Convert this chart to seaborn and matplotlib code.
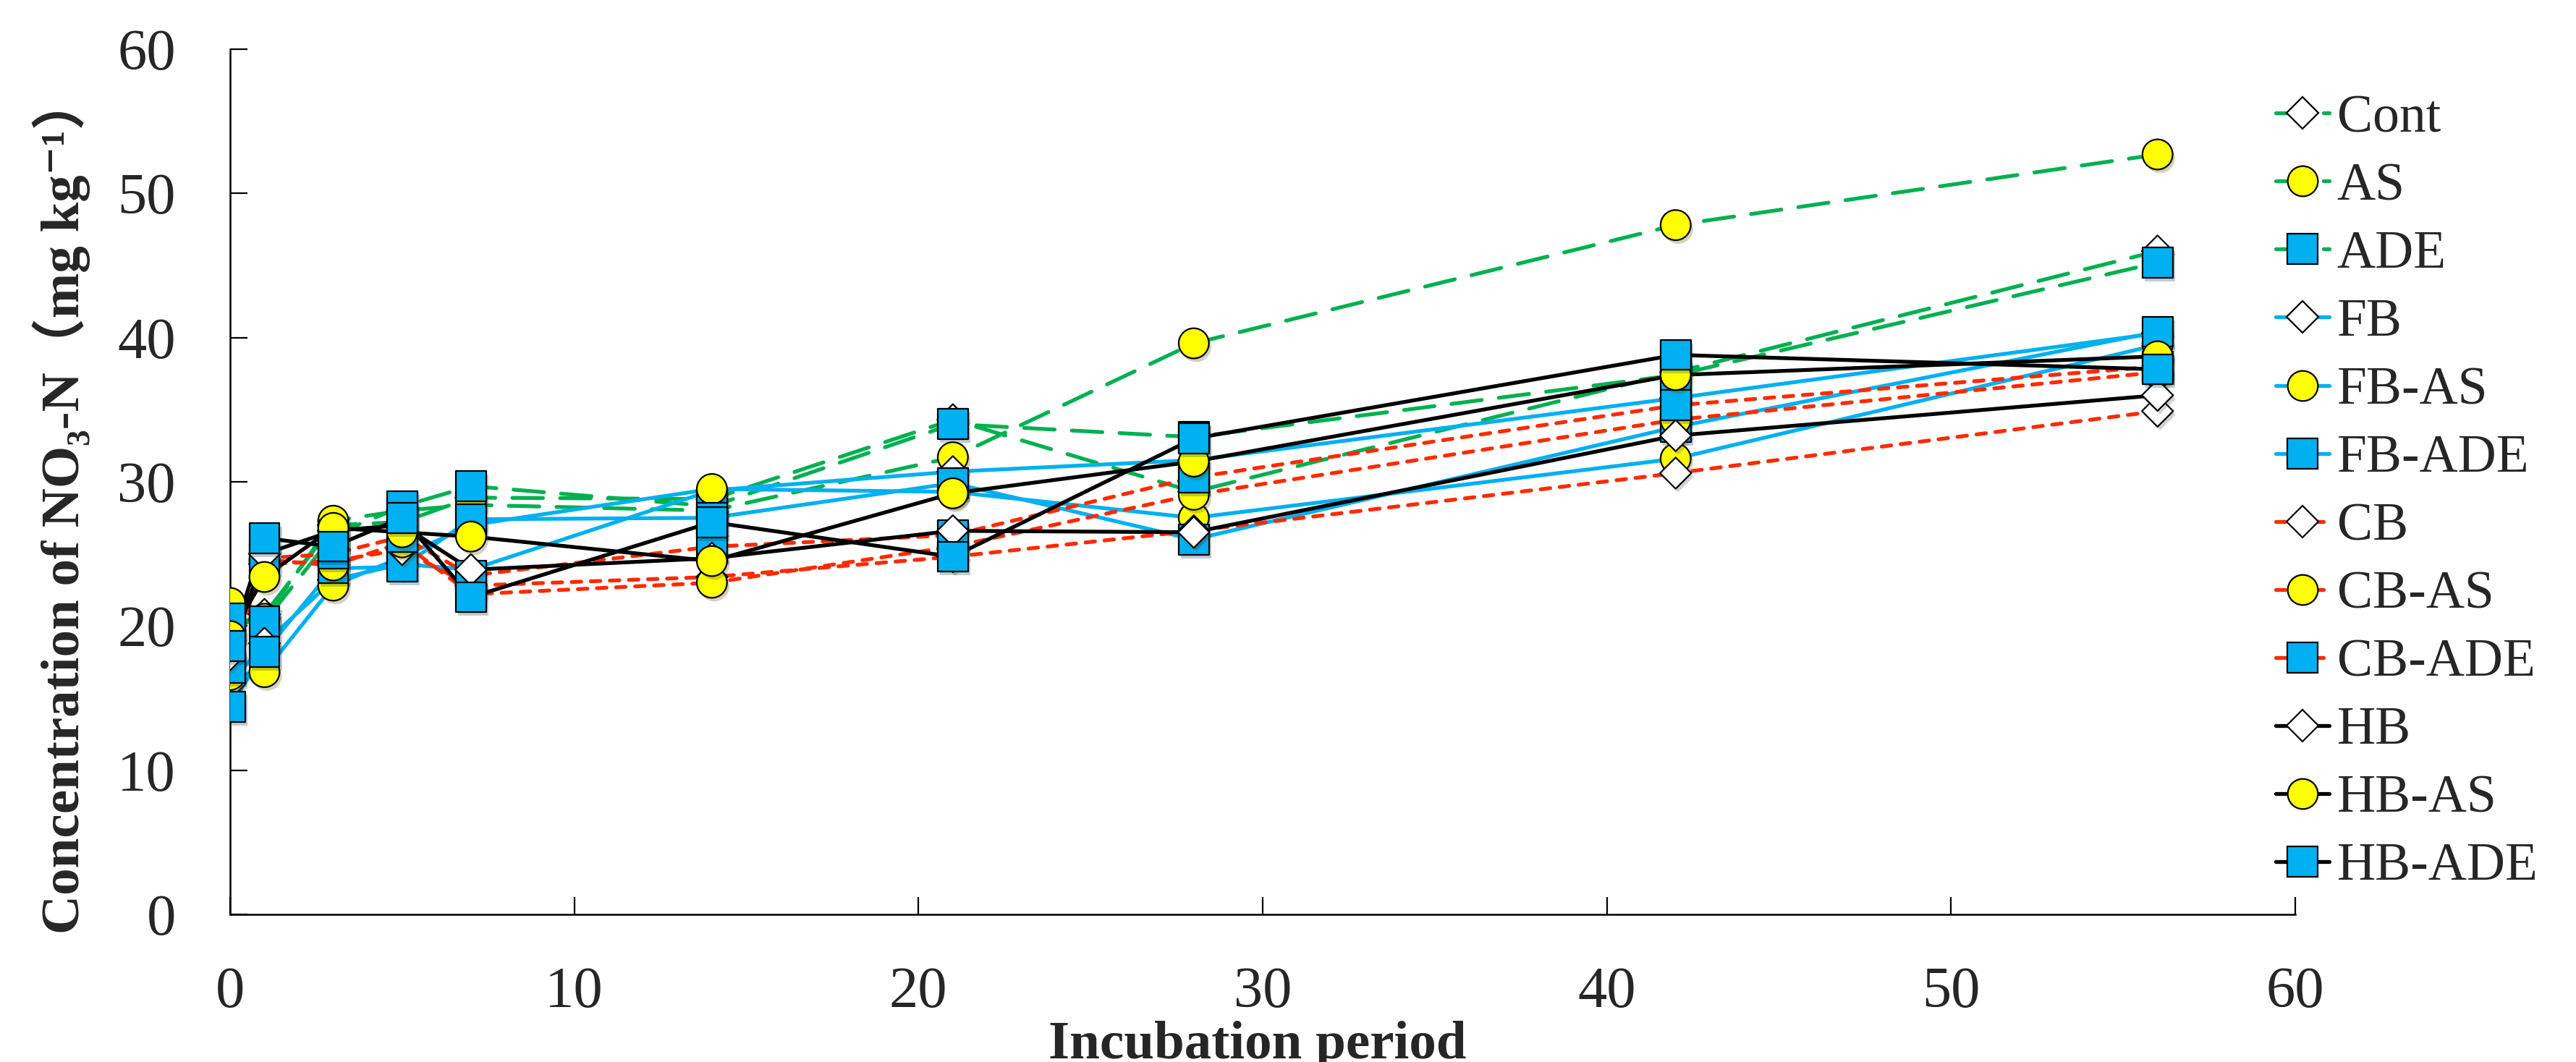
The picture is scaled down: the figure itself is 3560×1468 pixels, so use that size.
import pandas as pd
import matplotlib
matplotlib.use("Agg")
import matplotlib.pyplot as plt
import matplotlib.patheffects as pe
import seaborn as sns
from matplotlib.lines import Line2D

# incubation days and NO3-N values (mg/kg)
days = [0, 1, 3, 5, 7, 14, 21, 28, 42, 56]
treatments = ["Cont", "AS", "ADE", "FB", "FB-AS", "FB-ADE",
              "CB", "CB-AS", "CB-ADE", "HB", "HB-AS", "HB-ADE"]

cont = [19.7, 20.8, 27.0, 27.2, 28.9, 28.8, 34.3, 29.3, 37.6, 46.0]
as_ = [21.6, 20.5, 27.3, 28.0, 28.4, 28.0, 31.7, 39.6, 47.8, 52.7]
ade = [20.5, 20.3, 26.3, 28.3, 29.7, 28.3, 34.0, 33.1, 37.4, 45.2]
fb = [16.0, 18.8, 23.2, 24.3, 23.9, 29.4, 30.7, 31.5, 35.8, 40.3]
fb_as = [16.6, 16.8, 22.8, 24.8, 27.0, 29.5, 29.3, 27.5, 31.6, 39.5]
fb_ade = [14.4, 18.2, 24.0, 24.1, 27.4, 27.5, 29.9, 26.0, 33.8, 40.4]
cb = [19.0, 24.3, 24.5, 25.3, 22.8, 23.4, 24.8, 26.6, 30.6, 34.9]
cb_as = [19.2, 24.6, 24.2, 25.8, 22.2, 23.0, 25.5, 29.1, 34.3, 37.6]
cb_ade = [17.1, 24.7, 25.0, 26.2, 23.5, 25.5, 26.3, 30.3, 35.3, 38.0]
hb = [18.0, 25.0, 26.6, 27.0, 23.9, 24.7, 26.6, 26.5, 33.2, 36.0]
hb_as = [19.3, 23.4, 26.8, 26.5, 26.2, 24.5, 29.2, 31.4, 37.4, 38.7]
hb_ade = [18.6, 26.1, 25.5, 27.5, 22.0, 27.2, 24.8, 33.0, 38.8, 37.8]

values = [cont, as_, ade, fb, fb_as, fb_ade, cb, cb_as, cb_ade, hb, hb_as, hb_ade]

rows = []
for name, vals in zip(treatments, values):
    for d, v in zip(days, vals):
        rows.append({"treatment": name, "day": d, "no3": v})
df = pd.DataFrame(rows)

# styling per group / amendment
GREEN, CYAN, RED, BLACK = "#00B050", "#00B0F0", "#FF2A00", "#000000"
group_style = {
    "": (GREEN, (0, (8, 4.5))),
    "FB": (CYAN, "-"),
    "CB": (RED, (0, (2.5, 2.5))),
    "HB": (BLACK, "-"),
}
marker_style = {
    "Cont": ("D", "white", 11),
    "AS": ("o", "#FFFF00", 15),
    "ADE": ("s", CYAN, 15),
}


def style_of(name):
    parts = name.split("-")
    if name in ("Cont", "AS", "ADE"):
        grp, amend = "", name
    else:
        grp = parts[0]
        amend = parts[1] if len(parts) > 1 else "Cont"
    color, ls = group_style[grp]
    marker, fill, ms = marker_style[amend]
    return color, ls, marker, fill, ms


sns.set_style("ticks")
plt.rcParams["font.family"] = ["Liberation Serif", "DejaVu Serif", "Noto Sans CJK SC"]

fig = plt.figure(figsize=(17.8, 7.34), dpi=200)
ax = fig.add_axes([0.0893, 0.139, 0.8017, 0.8147])

lw = 1.9
for name in treatments:
    color, ls, marker, fill, ms = style_of(name)
    sub = df[df["treatment"] == name]
    sns.lineplot(data=sub, x="day", y="no3", ax=ax, color=color, linestyle=ls,
                 linewidth=lw, dash_capstyle="round", legend=False, zorder=2)

shadow = [pe.SimplePatchShadow(offset=(1.2, -1.8), alpha=0.25), pe.Normal()]
for name in treatments:
    color, ls, marker, fill, ms = style_of(name)
    sub = df[df["treatment"] == name]
    sns.scatterplot(data=sub, x="day", y="no3", ax=ax, marker=marker, s=ms ** 2,
                    color=fill, edgecolor="black", linewidth=0.8, legend=False,
                    zorder=3, path_effects=shadow)

ax.set_xlim(0, 60)
ax.set_ylim(0, 60)
ax.set_xticks(range(0, 61, 10))
ax.set_yticks(range(0, 61, 10))
ax.tick_params(direction="in", length=8.6, width=0.8, labelsize=29, color="black")
ax.tick_params(axis="y", pad=27)
ax.tick_params(axis="x", pad=26)
for s in ["top", "right"]:
    ax.spines[s].set_visible(False)
for s in ["left", "bottom"]:
    ax.spines[s].set_linewidth(0.9)
    ax.spines[s].set_color("black")
ax.set_xlabel("")
ax.set_ylabel("")

fig.text(0.0239, 0.525, "Concentration of NO\u2083-N\uff08mg kg\u207b\u00b9\uff09",
         rotation=90, ha="center", va="center", fontsize=27, fontweight="bold")
# in the original the x title sits at the very bottom edge
fig.text(0.488, 0.039, "Incubation period", ha="center", va="top",
         fontsize=27, fontweight="bold")

handles = []
for name in treatments:
    color, ls, marker, fill, ms = style_of(name)
    handles.append(Line2D([], [], color=color, linestyle=ls, linewidth=lw,
                          dash_capstyle="round", marker=marker, markersize=ms,
                          markerfacecolor=fill, markeredgecolor="black",
                          markeredgewidth=0.8))
fig.legend(handles, treatments, loc="upper left", bbox_to_anchor=(0.8834, 0.911),
           frameon=False, fontsize=26.5, handlelength=1.0, handletextpad=0.15,
           labelspacing=0.36, borderpad=0, borderaxespad=0, numpoints=1)

fig.savefig("out.png", dpi=200)
